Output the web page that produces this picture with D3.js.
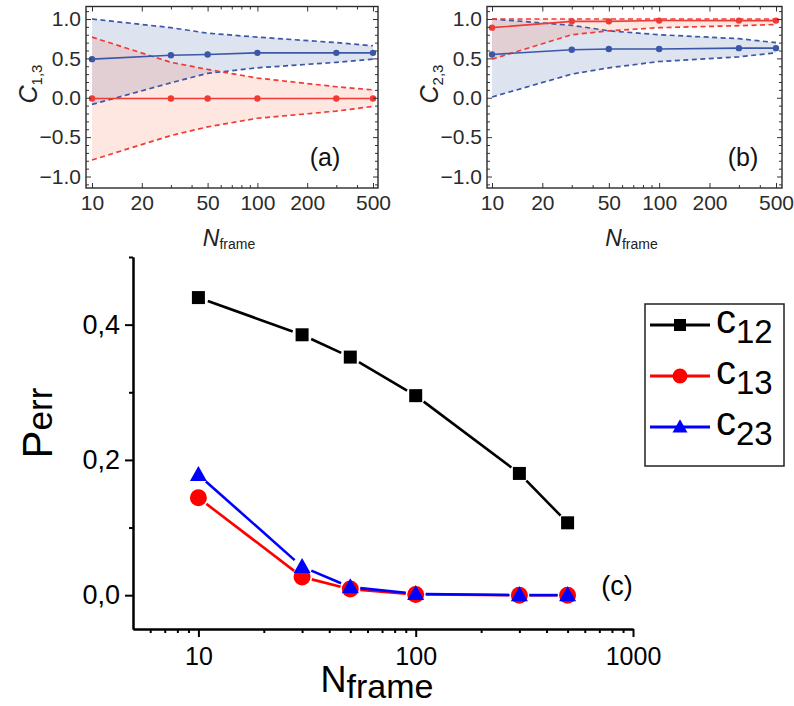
<!DOCTYPE html>
<html>
<head>
<meta charset="UTF-8"/>
<title>Perr vs Nframe</title>
<style>
  body { margin: 0; background: #ffffff; }
  svg { display: block; font-family: "Liberation Sans", Arial, sans-serif; }
  .frame_axis path.domain { display: none; }
  .frame_axis line { stroke: #333333; stroke-width: 1; }
  .frame_axis text { font-size: 21px; fill: #2b2b2b; font-family: "Liberation Sans", Arial, sans-serif; }
  .origin_axis path.domain { stroke: #000; stroke-width: 2; }
  .origin_axis line { stroke: #000; stroke-width: 2; }
  .origin_axis text { fill: #000; font-family: "Liberation Sans", Arial, sans-serif; }
</style>
</head>
<body>
<svg width="794" height="706"></svg>
<script src="https://d3js.org/d3.v7.min.js"></script>
<script>
// frame counts shared by all panels
const nFrame = [10, 30, 50, 100, 300, 500];

// (a) C_{1,3}: mean and dashed bounds
const aBlueMid = [0.49, 0.54, 0.55, 0.57, 0.57, 0.57];
const aBlueHi  = [1.00, 0.89, 0.82, 0.77, 0.70, 0.66];
const aBlueLo  = [-0.085, 0.19, 0.31, 0.38, 0.45, 0.49];
const aRedMid  = [-0.01, -0.01, -0.01, -0.01, -0.01, -0.01];
const aRedHi   = [0.77, 0.45, 0.36, 0.25, 0.14, 0.10];
const aRedLo   = [-0.79, -0.48, -0.37, -0.26, -0.17, -0.11];

// (b) C_{2,3}
const bBlueMid = [0.55, 0.61, 0.62, 0.62, 0.63, 0.63];
const bBlueHi  = [1.00, 0.92, 0.85, 0.80, 0.75, 0.70];
const bBlueLo  = [0.01, 0.30, 0.38, 0.46, 0.52, 0.57];
const bRedMid  = [0.89, 0.97, 0.97, 0.98, 0.98, 0.98];
const bRedHi   = [1.00, 1.00, 1.00, 1.00, 1.00, 1.00];
const bRedLo   = [0.49, 0.80, 0.85, 0.89, 0.915, 0.93];

// (c) error probability
const pC12 = [0.440, 0.385, 0.352, 0.295, 0.180, 0.107];
const pC13 = [0.144, 0.027, 0.009, 0.001, 0.000, 0.000];
const pC23 = [0.178, 0.042, 0.012, 0.002, 0.000, 0.000];

// tick labels
const abTicksX = [10, 20, 50, 100, 200, 500];
const abMinorX = [30, 40, 60, 70, 80, 90, 300, 400];
const abTicksY = [-1, -0.5, 0, 0.5, 1];
const cTicksX = [10, 100, 1000];
const cMinorX = [6, 7, 8, 9, 20, 30, 40, 50, 60, 70, 80, 90, 200, 300, 400, 500, 600, 700, 800, 900];
const cTicksY = [0, 0.2, 0.4];
const cMinorY = [0.1, 0.3, 0.5];

const BLUE = '#3b57a7';
const RED = '#f03a36';

const svg = d3.select('svg');

function fmtMath(d) {
  const s = Math.abs(d).toFixed(1);
  return d < 0 ? '\u2212' + s : s;
}

// Mathematica-style framed panel
function drawFramed(p) {
  const x = d3.scaleLog().domain([10, 500]).range([p.x10, p.x500]);
  const y = d3.scaleLinear().domain([-1, 1]).range([176.5, 19]);
  const g = svg.append('g');

  const rows = nFrame.map((n, i) => ({ n: n, i: i }));

  const area = (hi, lo) => d3.area()
    .x(d => x(d.n)).y0(d => y(lo[d.i])).y1(d => y(hi[d.i]));
  const line = (v) => d3.line().x(d => x(d.n)).y(d => y(v[d.i]));

  // fills
  g.append('path').attr('d', area(p.blueHi, p.blueLo)(rows))
    .attr('fill', 'rgba(59,87,167,0.17)');
  g.append('path').attr('d', area(p.redHi, p.redLo)(rows))
    .attr('fill', 'rgba(248,110,70,0.17)');

  // dashed bounds
  [[p.blueHi, BLUE], [p.blueLo, BLUE], [p.redHi, RED], [p.redLo, RED]].forEach(([v, c]) => {
    g.append('path').attr('d', line(v)(rows))
      .attr('fill', 'none').attr('stroke', c)
      .attr('stroke-width', 1.7).attr('stroke-dasharray', '5,3.5');
  });

  // mean lines with dots
  [[p.blueMid, BLUE], [p.redMid, RED]].forEach(([v, c]) => {
    g.append('path').attr('d', line(v)(rows))
      .attr('fill', 'none').attr('stroke', c).attr('stroke-width', 1.6);
    g.selectAll(null).data(rows).enter().append('circle')
      .attr('cx', d => x(d.n)).attr('cy', d => y(v[d.i]))
      .attr('r', 3.2).attr('fill', c);
  });

  // frame ticks (inward)
  const bottom = p.bottom, top = p.top, left = p.left, right = p.right;
  g.append('g').attr('class', 'frame_axis').attr('transform', `translate(0,${bottom})`)
    .call(d3.axisBottom(x).tickValues(abTicksX).tickFormat(d3.format('d')).tickSize(-5).tickPadding(7));
  g.append('g').attr('class', 'frame_axis').attr('transform', `translate(0,${bottom})`)
    .call(d3.axisBottom(x).tickValues(abMinorX).tickFormat('').tickSize(-3));
  g.append('g').attr('class', 'frame_axis').attr('transform', `translate(0,${top})`)
    .call(d3.axisTop(x).tickValues(abTicksX).tickFormat('').tickSize(-5));
  g.append('g').attr('class', 'frame_axis').attr('transform', `translate(0,${top})`)
    .call(d3.axisTop(x).tickValues(abMinorX).tickFormat('').tickSize(-3));

  const minorY = d3.range(-11, 12).map(k => k / 10).filter(v => Math.abs(v * 2 - Math.round(v * 2)) > 1e-6);
  g.append('g').attr('class', 'frame_axis').attr('transform', `translate(${left},0)`)
    .call(d3.axisLeft(y).tickValues(abTicksY).tickFormat(fmtMath).tickSize(-5).tickPadding(5));
  g.append('g').attr('class', 'frame_axis').attr('transform', `translate(${left},0)`)
    .call(d3.axisLeft(y).tickValues(minorY).tickFormat('').tickSize(-3));
  g.append('g').attr('class', 'frame_axis').attr('transform', `translate(${right},0)`)
    .call(d3.axisRight(y).tickValues(abTicksY).tickFormat('').tickSize(-5));
  g.append('g').attr('class', 'frame_axis').attr('transform', `translate(${right},0)`)
    .call(d3.axisRight(y).tickValues(minorY).tickFormat('').tickSize(-3));

  g.append('rect')
    .attr('x', left).attr('y', top)
    .attr('width', right - left).attr('height', bottom - top)
    .attr('fill', 'none').attr('stroke', '#2a2a2a').attr('stroke-width', 1.4);

  // y label C_{i,j}
  const yl = g.append('text')
    .attr('transform', `translate(${left - 49},${p.labelY}) rotate(-90)`)
    .attr('text-anchor', 'middle').attr('fill', '#222');
  yl.append('tspan').attr('font-size', 25).attr('font-style', 'italic').text('C');
  yl.append('tspan').attr('font-size', 15).attr('dy', 5).text(p.sub);

  // x label N_frame
  const xl = g.append('text')
    .attr('x', (left + right) / 2 - 3).attr('y', 246)
    .attr('text-anchor', 'middle').attr('fill', '#222');
  xl.append('tspan').attr('font-size', 23).attr('font-style', 'italic').text('N');
  xl.append('tspan').attr('font-size', 14).attr('dy', 3).text('frame');

  g.append('text')
    .attr('x', p.tagX).attr('y', 166)
    .attr('text-anchor', 'middle').attr('font-size', 25).attr('fill', '#111')
    .text(p.tag);
}

drawFramed({
  left: 86, right: 378, top: 6.5, bottom: 188, x10: 92, x500: 373, labelY: 84,
  sub: '1,3', tag: '(a)', tagX: 325,
  blueMid: aBlueMid, blueHi: aBlueHi, blueLo: aBlueLo,
  redMid: aRedMid, redHi: aRedHi, redLo: aRedLo
});
drawFramed({
  left: 487, right: 782, top: 6.5, bottom: 188, x10: 492, x500: 776, labelY: 84,
  sub: '2,3', tag: '(b)', tagX: 743,
  blueMid: bBlueMid, blueHi: bBlueHi, blueLo: bBlueLo,
  redMid: bRedMid, redHi: bRedHi, redLo: bRedLo
});

// ---- panel (c), Origin style ----
const xc = d3.scaleLog().domain([5, 1000]).range([133, 633]);
const yc = d3.scaleLinear().domain([-0.05, 0.5]).range([629, 257]);
const gc = svg.append('g');

gc.append('g').attr('class', 'origin_axis').attr('transform', 'translate(0,629)')
  .call(d3.axisBottom(xc).tickValues(cMinorX).tickFormat('').tickSize(4).tickSizeOuter(0));
gc.append('g').attr('class', 'origin_axis').attr('transform', 'translate(0,629)')
  .call(d3.axisBottom(xc).tickValues(cTicksX).tickFormat(d3.format('d')).tickSize(8).tickSizeOuter(0).tickPadding(10))
  .selectAll('text').attr('font-size', 25);
gc.append('g').attr('class', 'origin_axis').attr('transform', 'translate(133,0)')
  .call(d3.axisLeft(yc).tickValues(cMinorY).tickFormat('').tickSize(4).tickSizeOuter(0));
gc.append('g').attr('class', 'origin_axis').attr('transform', 'translate(133,0)')
  .call(d3.axisLeft(yc).tickValues(cTicksY).tickFormat(d => d.toFixed(1).replace('.', ',')).tickSize(8).tickSizeOuter(0).tickPadding(5))
  .selectAll('text').attr('font-size', 27);

// lines with small gaps at markers
function gapped(vals, gap) {
  const pts = nFrame.map((n, i) => [xc(n), yc(vals[i])]);
  const segs = [];
  for (let i = 0; i < pts.length - 1; i++) {
    const [x1, y1] = pts[i], [x2, y2] = pts[i + 1];
    const len = Math.hypot(x2 - x1, y2 - y1);
    if (len <= 2 * gap) continue;
    const ux = (x2 - x1) / len, uy = (y2 - y1) / len;
    segs.push([x1 + ux * gap, y1 + uy * gap, x2 - ux * gap, y2 - uy * gap]);
  }
  return segs;
}

const series = [
  { vals: pC12, color: '#000000', shape: 'square', name: '12' },
  { vals: pC13, color: '#ff0000', shape: 'circle', name: '13' },
  { vals: pC23, color: '#0000ff', shape: 'triangle', name: '23' }
];

function marker(sel, shape, color, s) {
  if (shape === 'square') {
    sel.append('rect').attr('x', -s / 2).attr('y', -s / 2).attr('width', s).attr('height', s).attr('fill', color);
  } else if (shape === 'circle') {
    sel.append('circle').attr('r', s / 2).attr('fill', color);
  } else {
    sel.append('path').attr('d', `M0,${-s * 0.52}L${s / 2},${s * 0.36}L${-s / 2},${s * 0.36}Z`).attr('fill', color);
  }
}

series.forEach(sr => {
  gc.append('g').selectAll('line').data(gapped(sr.vals, 10)).enter().append('line')
    .attr('x1', d => d[0]).attr('y1', d => d[1]).attr('x2', d => d[2]).attr('y2', d => d[3])
    .attr('stroke', sr.color).attr('stroke-width', 2.6);
});
series.forEach(sr => {
  const size = sr.shape === 'square' ? 13 : 17;
  nFrame.forEach((n, i) => {
    const m = gc.append('g').attr('transform', `translate(${xc(n)},${yc(sr.vals[i])})`);
    marker(m, sr.shape, sr.color, size);
  });
});

// axis titles
const yt = gc.append('text')
  .attr('transform', 'translate(52,423) rotate(-90)')
  .attr('text-anchor', 'middle').attr('fill', '#000');
yt.append('tspan').attr('font-size', 42).text('P');
yt.append('tspan').attr('font-size', 35).text('err');

const xt = gc.append('text')
  .attr('x', 377).attr('y', 692)
  .attr('text-anchor', 'middle').attr('fill', '#000');
xt.append('tspan').attr('font-size', 36).text('N');
xt.append('tspan').attr('font-size', 34).attr('dy', 6).text('frame');

gc.append('text').attr('x', 617).attr('y', 595)
  .attr('text-anchor', 'middle').attr('font-size', 27).text('(c)');

// legend
const lg = gc.append('g');
lg.append('rect').attr('x', 645).attr('y', 304).attr('width', 139).attr('height', 162)
  .attr('fill', '#fff').attr('stroke', '#222').attr('stroke-width', 1.5);
series.forEach((sr, i) => {
  const cy = 325 + i * 51;
  lg.append('line').attr('x1', 650).attr('x2', 710).attr('y1', cy).attr('y2', cy)
    .attr('stroke', sr.color).attr('stroke-width', 3.2);
  const m = lg.append('g').attr('transform', `translate(680,${cy})`);
  marker(m, sr.shape, sr.color, sr.shape === 'square' ? 12 : 15);
  const t = lg.append('text').attr('x', 716).attr('y', cy + 8).attr('fill', '#000');
  t.append('tspan').attr('font-size', 40).text('c');
  t.append('tspan').attr('font-size', 33).attr('dy', 10).text(sr.name);
});
</script>
</body>
</html>
